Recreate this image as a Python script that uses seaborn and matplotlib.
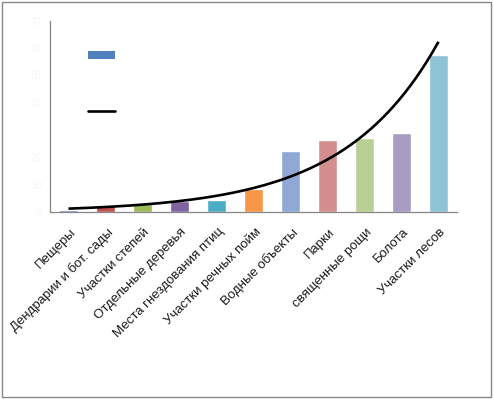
import numpy as np
import pandas as pd
import matplotlib
matplotlib.use("Agg")
import matplotlib.pyplot as plt
import matplotlib.transforms as mtransforms
from matplotlib.patches import Patch, Rectangle
from matplotlib.lines import Line2D
import seaborn as sns

# Data
categories = [
    "Пещеры", "Дендрарии и бот. сады", "Участки степей", "Отдельные деревья",
    "Места гнездования птиц", "Участки речных пойм", "Водные объекты",
    "Парки", "священные рощи", "Болота", "Участки лесов",
]
values = [0.8, 2.6, 2.9, 3.9, 4.5, 8.4, 22.3, 26.4, 27.1, 28.9, 57.5]
bar_colors = [
    "#4f81bd", "#c0504d", "#9bbb59", "#8064a2", "#4bacc6", "#f79646",
    "#8fa8d6", "#d48e8e", "#b9cf96", "#a99cc3", "#8ec3d6",
]
ytick_values = [0, 10, 20, 40, 50, 60, 70]

df = pd.DataFrame({"cat": categories, "val": values})

sns.set_style("white")
plt.rcParams["font.family"] = ["Liberation Sans", "DejaVu Sans"]

fig = plt.figure(figsize=(4.94, 3.99), dpi=100)
ax = fig.add_axes([50 / 494, 1 - 212 / 399, 407 / 494, (212 - 20.7) / 399])

sns.barplot(data=df, x="cat", y="val", hue="cat", palette=bar_colors,
            legend=False, width=0.49, saturation=1, ax=ax)

# exponential trend line (Excel-style fit on log values)
xs = np.arange(len(values))
b, a = np.polyfit(xs, np.log(values), 1)
xt = np.linspace(0, len(values) - 1, 200)
ax.plot(xt, np.exp(a + b * xt), color="black", lw=1.9, solid_capstyle="butt")

ax.set_xlim(-0.5, len(values) - 0.5)
ax.set_ylim(0, 70)
ax.set_xlabel("")
ax.set_ylabel("")

for s in ["top", "right"]:
    ax.spines[s].set_visible(False)
for s in ["left", "bottom"]:
    ax.spines[s].set_color("#878787")
    ax.spines[s].set_linewidth(0.9)

# y tick labels are almost invisible in the original
ax.set_yticks(ytick_values)
ax.set_yticklabels([str(v) for v in ytick_values], color="#f7f7f7", fontsize=7)
ax.tick_params(axis="y", direction="out", length=4, color="#878787", width=0.9, pad=2)

# category boundary ticks, labels at centers
ax.set_xticks(np.arange(-0.5, len(values)), minor=False)
ax.set_xticklabels([])
ax.set_xticks(xs, minor=True)
ax.set_xticklabels(categories, minor=True, rotation=45, ha="right",
                   rotation_mode="anchor", fontsize=9.5, color="#1a1a1a")
ax.tick_params(axis="x", which="major", direction="out", length=4,
               color="#878787", width=0.9)
ax.tick_params(axis="x", which="minor", length=0, pad=10)
offset = mtransforms.ScaledTranslation(1 / 100, 0, fig.dpi_scale_trans)
for lbl in ax.get_xticklabels(minor=True):
    lbl.set_transform(lbl.get_transform() + offset)

handles = [Patch(facecolor="#4f81bd", edgecolor="none"),
           Line2D([0], [0], color="black", lw=1.9)]
ax.legend(handles, ["", ""], loc="upper left",
          bbox_to_anchor=(88 / 494, 1 - 51 / 399), bbox_transform=fig.transFigure,
          frameon=False, fontsize=8, handlelength=2.4, handleheight=0.75,
          labelspacing=4.1, borderpad=0, borderaxespad=0)

fig.patches.append(Rectangle((1.5 / 494, 2.5 / 399), 489 / 494, 395 / 399,
                             transform=fig.transFigure, fill=False,
                             edgecolor="#878787", lw=1.0))

fig.savefig("out.png", dpi=100)
